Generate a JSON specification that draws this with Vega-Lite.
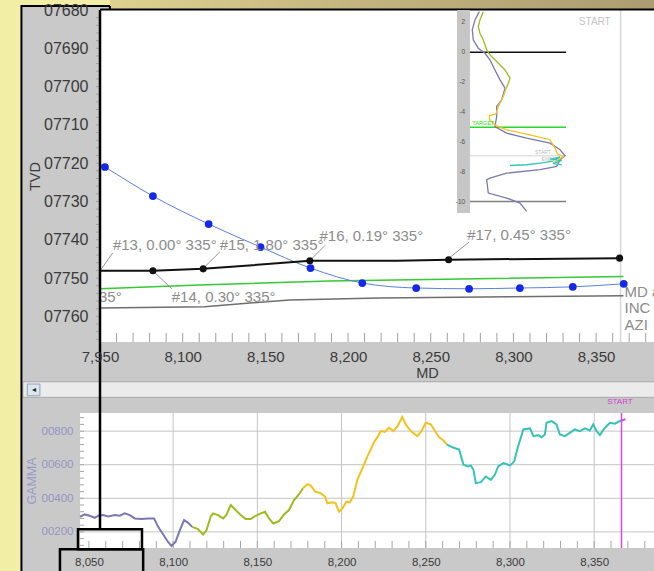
{
"$schema": "https://vega.github.io/schema/vega-lite/v6.json",
"width": 633, "height": 562,
"autosize": {"type": "none"},
"padding": {"left": 21, "top": 9, "right": 0, "bottom": 0},
"background": "#f3eea6",
"config": {"view": {"fill": "#c9c9c9", "stroke": null}, "font": "Liberation Sans", "text": {"font": "Liberation Sans"}, "axis": {"labelOverlap": false}},
"datasets": {
 "one": [{}],
 "gamma": [
  {"md":8044.7,"g":290,"seg":"A"},{"md":8047.5,"g":304,"seg":"A"},{"md":8050.5,"g":296,"seg":"A"},{"md":8053.5,"g":284,"seg":"A"},{"md":8055.5,"g":296,"seg":"A"},{"md":8058.4,"g":300,"seg":"A"},{"md":8061.4,"g":292,"seg":"A"},{"md":8065.4,"g":300,"seg":"A"},{"md":8068.3,"g":296,"seg":"A"},{"md":8071.3,"g":310,"seg":"A"},{"md":8074.3,"g":300,"seg":"A"},{"md":8077.2,"g":280,"seg":"A"},{"md":8081.2,"g":276,"seg":"A"},{"md":8085.2,"g":280,"seg":"A"},{"md":8088.7,"g":280,"seg":"A"},{"md":8091.1,"g":230,"seg":"A"},{"md":8094.1,"g":184,"seg":"A"},{"md":8097,"g":140,"seg":"A"},{"md":8099,"g":116,"seg":"A"},{"md":8101.4,"g":140,"seg":"A"},{"md":8104,"g":210,"seg":"A"},{"md":8106.5,"g":270,"seg":"A"},{"md":8108.9,"g":254,"seg":"A"},{"md":8111.3,"g":230,"seg":"A"},
  {"md":8111.3,"g":230,"seg":"B"},{"md":8114.8,"g":216,"seg":"B"},{"md":8117.8,"g":184,"seg":"B"},{"md":8119.8,"g":210,"seg":"B"},{"md":8122.3,"g":290,"seg":"B"},{"md":8123.7,"g":310,"seg":"B"},{"md":8126.7,"g":300,"seg":"B"},{"md":8129.7,"g":280,"seg":"B"},{"md":8131.5,"g":300,"seg":"B"},{"md":8134.2,"g":360,"seg":"B"},{"md":8137.1,"g":330,"seg":"B"},{"md":8140.1,"g":300,"seg":"B"},{"md":8143.1,"g":276,"seg":"B"},{"md":8146,"g":276,"seg":"B"},{"md":8149,"g":296,"seg":"B"},{"md":8152,"g":310,"seg":"B"},{"md":8154.6,"g":320,"seg":"B"},{"md":8156.9,"g":280,"seg":"B"},{"md":8159.5,"g":250,"seg":"B"},{"md":8162.9,"g":264,"seg":"B"},{"md":8165.8,"g":304,"seg":"B"},{"md":8168.8,"g":330,"seg":"B"},{"md":8171.8,"g":390,"seg":"B"},{"md":8174.8,"g":424,"seg":"B"},{"md":8177.1,"g":460,"seg":"B"},
  {"md":8177.1,"g":460,"seg":"C"},{"md":8179.7,"g":484,"seg":"C"},{"md":8181.7,"g":476,"seg":"C"},{"md":8184.3,"g":440,"seg":"C"},{"md":8187.6,"g":430,"seg":"C"},{"md":8190.2,"g":410,"seg":"C"},{"md":8191.6,"g":370,"seg":"C"},{"md":8194.6,"g":376,"seg":"C"},{"md":8196.5,"g":370,"seg":"C"},{"md":8198.5,"g":320,"seg":"C"},{"md":8200.5,"g":340,"seg":"C"},{"md":8202.9,"g":380,"seg":"C"},{"md":8204.9,"g":376,"seg":"C"},{"md":8206.9,"g":410,"seg":"C"},{"md":8209.4,"g":510,"seg":"C"},{"md":8212.4,"g":580,"seg":"C"},{"md":8215.3,"g":650,"seg":"C"},{"md":8217.3,"g":690,"seg":"C"},{"md":8219.3,"g":735,"seg":"C"},{"md":8221,"g":760,"seg":"C"},{"md":8223.3,"g":800,"seg":"C"},{"md":8225.6,"g":796,"seg":"C"},{"md":8228.2,"g":820,"seg":"C"},{"md":8230.8,"g":800,"seg":"C"},{"md":8233.2,"g":830,"seg":"C"},{"md":8236.1,"g":884,"seg":"C"},{"md":8238.1,"g":840,"seg":"C"},{"md":8241.1,"g":800,"seg":"C"},{"md":8245,"g":770,"seg":"C"},{"md":8247.4,"g":800,"seg":"C"},{"md":8250,"g":850,"seg":"C"},{"md":8253,"g":840,"seg":"C"},{"md":8255.3,"g":804,"seg":"C"},{"md":8257.9,"g":764,"seg":"C"},{"md":8260.5,"g":744,"seg":"C"},{"md":8262.5,"g":720,"seg":"C"},
  {"md":8262.5,"g":720,"seg":"D"},{"md":8265.8,"g":704,"seg":"D"},{"md":8269.8,"g":690,"seg":"D"},{"md":8272.4,"g":600,"seg":"D"},{"md":8275.1,"g":590,"seg":"D"},{"md":8276.7,"g":596,"seg":"D"},{"md":8278.3,"g":570,"seg":"D"},{"md":8279.7,"g":490,"seg":"D"},{"md":8282.7,"g":496,"seg":"D"},{"md":8285.6,"g":530,"seg":"D"},{"md":8288.6,"g":510,"seg":"D"},{"md":8291,"g":540,"seg":"D"},{"md":8293,"g":590,"seg":"D"},{"md":8296.1,"g":610,"seg":"D"},{"md":8300.1,"g":596,"seg":"D"},{"md":8302.5,"g":620,"seg":"D"},{"md":8304.5,"g":700,"seg":"D"},{"md":8306.4,"g":760,"seg":"D"},{"md":8307.9,"g":810,"seg":"D"},{"md":8311.9,"g":816,"seg":"D"},{"md":8313.9,"g":770,"seg":"D"},{"md":8316.7,"g":776,"seg":"D"},{"md":8318.7,"g":764,"seg":"D"},{"md":8320.7,"g":780,"seg":"D"},{"md":8321.7,"g":850,"seg":"D"},{"md":8324.7,"g":860,"seg":"D"},{"md":8327.6,"g":840,"seg":"D"},{"md":8329.6,"g":780,"seg":"D"},{"md":8332.6,"g":770,"seg":"D"},{"md":8335.5,"g":790,"seg":"D"},{"md":8338.5,"g":810,"seg":"D"},{"md":8341.5,"g":800,"seg":"D"},{"md":8344.5,"g":816,"seg":"D"},{"md":8347.4,"g":804,"seg":"D"},{"md":8349.4,"g":840,"seg":"D"},{"md":8351.4,"g":800,"seg":"D"},{"md":8353.4,"g":776,"seg":"D"},{"md":8356,"g":816,"seg":"D"},{"md":8359.3,"g":850,"seg":"D"},{"md":8362.3,"g":844,"seg":"D"},{"md":8365.2,"g":860,"seg":"D"},{"md":8366.2,"g":862,"seg":"D"},
  {"md":8366.2,"g":862,"seg":"E"},{"md":8368.5,"g":872,"seg":"E"}
 ],
 "gridX": [{"md":8100},{"md":8150},{"md":8200},{"md":8250},{"md":8300},{"md":8350}],
 "gridY": [{"g":200},{"g":400},{"g":600},{"g":800}],
 "mdTicks": [{"md":8050},{"md":8060},{"md":8070},{"md":8080},{"md":8090},{"md":8100},{"md":8110},{"md":8120},{"md":8130},{"md":8140},{"md":8150},{"md":8160},{"md":8170},{"md":8180},{"md":8190},{"md":8200},{"md":8210},{"md":8220},{"md":8230},{"md":8240},{"md":8250},{"md":8260},{"md":8270},{"md":8280},{"md":8290},{"md":8300},{"md":8310},{"md":8320},{"md":8330},{"md":8340},{"md":8350},{"md":8360},{"md":8370},{"md":8380}],
 "tvdTicks": [{"tvd":7682},{"tvd":7684},{"tvd":7686},{"tvd":7688},{"tvd":7690},{"tvd":7692},{"tvd":7694},{"tvd":7696},{"tvd":7698},{"tvd":7700},{"tvd":7702},{"tvd":7704},{"tvd":7706},{"tvd":7708},{"tvd":7710},{"tvd":7712},{"tvd":7714},{"tvd":7716},{"tvd":7718},{"tvd":7720},{"tvd":7722},{"tvd":7724},{"tvd":7726},{"tvd":7728},{"tvd":7730},{"tvd":7732},{"tvd":7734},{"tvd":7736},{"tvd":7738},{"tvd":7740},{"tvd":7742},{"tvd":7744},{"tvd":7746},{"tvd":7748},{"tvd":7750},{"tvd":7752},{"tvd":7754},{"tvd":7756},{"tvd":7758},{"tvd":7760},{"tvd":7762},{"tvd":7764},{"tvd":7766}],
 "gTicks": [{"g":120},{"g":160},{"g":200},{"g":240},{"g":280},{"g":320},{"g":360},{"g":400},{"g":440},{"g":480},{"g":520},{"g":560},{"g":600},{"g":640},{"g":680},{"g":720},{"g":760},{"g":800},{"g":840},{"g":880}],
 "blue": [{"md":8050,"tvd":7720.2},{"md":8053,"tvd":7721.0},{"md":8082,"tvd":7728.6},{"md":8115.7,"tvd":7735.9},{"md":8147.1,"tvd":7741.9},{"md":8177.3,"tvd":7747.4},{"md":8208.6,"tvd":7751.3},{"md":8241.2,"tvd":7752.6},{"md":8273.2,"tvd":7752.8},{"md":8303.9,"tvd":7752.6},{"md":8335.9,"tvd":7752.3},{"md":8366.7,"tvd":7751.5}],
 "bluePts": [{"md":8053,"tvd":7721.0},{"md":8082,"tvd":7728.6},{"md":8115.7,"tvd":7735.9},{"md":8147.1,"tvd":7741.9},{"md":8177.3,"tvd":7747.4},{"md":8208.6,"tvd":7751.3},{"md":8241.2,"tvd":7752.6},{"md":8273.2,"tvd":7752.8},{"md":8303.9,"tvd":7752.6},{"md":8335.9,"tvd":7752.3},{"md":8366.7,"tvd":7751.5}],
 "survey": [{"md":8050,"tvd":7748.1},{"md":8082,"tvd":7748.1},{"md":8112.4,"tvd":7747.6},{"md":8176.9,"tvd":7745.5},{"md":8230,"tvd":7745.5},{"md":8260.8,"tvd":7745.2},{"md":8364.2,"tvd":7744.8}],
 "surveyPts": [{"md":8082,"tvd":7748.1},{"md":8112.4,"tvd":7747.6},{"md":8176.9,"tvd":7745.5},{"md":8260.8,"tvd":7745.2},{"md":8364.2,"tvd":7744.8}],
 "green": [{"md":8050,"tvd":7752.8},{"md":8110.3,"tvd":7751.8},{"md":8188.7,"tvd":7750.8},{"md":8366.5,"tvd":7749.6}],
 "greyLine": [{"md":8050,"tvd":7757.8},{"md":8113.3,"tvd":7757.5},{"md":8164.6,"tvd":7755.7},{"md":8218.9,"tvd":7755.2},{"md":8366.5,"tvd":7754.6}],
 "labels": [
  {"md":8057.8,"tvd":7741.4,"text":"#13, 0.00° 335°"},
  {"md":8122.4,"tvd":7741.4,"text":"#15, 1.80° 335°"},
  {"md":8182.7,"tvd":7739.0,"text":"#16, 0.19° 335°"},
  {"md":8272.0,"tvd":7738.7,"text":"#17, 0.45° 335°"},
  {"md":8093.4,"tvd":7754.9,"text":"#14, 0.30° 335°"},
  {"md":8049.4,"tvd":7754.9,"text":"35°"},
  {"md":8367.2,"tvd":7753.6,"text":"MD at"},
  {"md":8367.2,"tvd":7757.9,"text":"INC"},
  {"md":8367.2,"tvd":7762.2,"text":"AZI"}
 ],
 "leaders": [
  {"md":8050,"tvd":7748.1,"md2":8057.8,"tvd2":7743.4},
  {"md":8112.1,"tvd":7747.6,"md2":8122.4,"tvd2":7743.2},
  {"md":8176.7,"tvd":7745.5,"md2":8186.3,"tvd2":7741.4},
  {"md":8260.5,"tvd":7745.0,"md2":8273.2,"tvd2":7740.6},
  {"md":8082,"tvd":7748.1,"md2":8093.4,"tvd2":7752.8}
 ],
 "insetCurves": [
  {"ix":9.7,"iy":2.71,"seg":"A"},{"ix":5.2,"iy":2.16,"seg":"A"},{"ix":2.4,"iy":1.49,"seg":"A"},{"ix":3.5,"iy":0.82,"seg":"A"},{"ix":8.7,"iy":0.27,"seg":"A"},{"ix":15.6,"iy":-0.07,"seg":"A"},{"ix":20.8,"iy":-0.51,"seg":"A"},{"ix":26.0,"iy":-1.18,"seg":"A"},{"ix":31.3,"iy":-1.84,"seg":"A"},{"ix":36.5,"iy":-2.4,"seg":"A"},{"ix":33.0,"iy":-3.18,"seg":"A"},{"ix":27.8,"iy":-3.62,"seg":"A"},{"ix":27.8,"iy":-4.29,"seg":"A"},{"ix":26.0,"iy":-4.96,"seg":"A"},{"ix":38.2,"iy":-5.4,"seg":"A"},{"ix":59.0,"iy":-5.73,"seg":"A"},{"ix":83.3,"iy":-6.07,"seg":"A"},{"ix":93.8,"iy":-6.51,"seg":"A"},{"ix":99.0,"iy":-6.91,"seg":"A"},{"ix":93.8,"iy":-7.18,"seg":"A"},{"ix":90.3,"iy":-7.62,"seg":"A"},{"ix":72.9,"iy":-7.84,"seg":"A"},{"ix":38.2,"iy":-8.07,"seg":"A"},{"ix":20.8,"iy":-8.4,"seg":"A"},{"ix":17.4,"iy":-8.51,"seg":"A"},{"ix":19.1,"iy":-9.4,"seg":"A"},{"ix":38.2,"iy":-9.73,"seg":"A"},{"ix":52.1,"iy":-10.07,"seg":"A"},{"ix":59.0,"iy":-10.62,"seg":"A"},
  {"ix":13.9,"iy":2.71,"seg":"B"},{"ix":10.4,"iy":2.16,"seg":"B"},{"ix":8.7,"iy":1.71,"seg":"B"},{"ix":10.4,"iy":1.27,"seg":"B"},{"ix":13.9,"iy":0.82,"seg":"B"},{"ix":17.4,"iy":0.16,"seg":"B"},{"ix":20.8,"iy":-0.18,"seg":"B"},{"ix":27.8,"iy":-0.62,"seg":"B"},{"ix":36.5,"iy":-1.18,"seg":"B"},{"ix":41.7,"iy":-1.73,"seg":"B"},{"ix":39.9,"iy":-2.07,"seg":"B"},{"ix":38.2,"iy":-2.33,"seg":"B"},
  {"ix":38.2,"iy":-2.33,"seg":"C"},{"ix":34.7,"iy":-2.96,"seg":"C"},{"ix":29.5,"iy":-3.62,"seg":"C"},{"ix":27.1,"iy":-4.11,"seg":"C"},{"ix":20.1,"iy":-4.24,"seg":"C"},{"ix":20.8,"iy":-4.56,"seg":"C"},{"ix":27.8,"iy":-4.91,"seg":"C"},{"ix":38.2,"iy":-5.18,"seg":"C"},{"ix":62.5,"iy":-5.51,"seg":"C"},{"ix":83.3,"iy":-5.84,"seg":"C"},{"ix":88.5,"iy":-6.4,"seg":"C"},{"ix":91.0,"iy":-6.78,"seg":"C"},{"ix":97.2,"iy":-6.96,"seg":"C"},{"ix":92.0,"iy":-7.18,"seg":"C"},{"ix":86.8,"iy":-7.4,"seg":"C"},
  {"ix":41.7,"iy":-7.56,"seg":"D"},{"ix":59.0,"iy":-7.51,"seg":"D"},{"ix":72.9,"iy":-7.4,"seg":"D"},{"ix":85.1,"iy":-7.29,"seg":"D"},{"ix":93.8,"iy":-7.0,"seg":"D"},{"ix":83.3,"iy":-7.13,"seg":"D"},{"ix":95.5,"iy":-7.22,"seg":"D"},{"ix":86.8,"iy":-7.44,"seg":"D"},{"ix":95.5,"iy":-7.51,"seg":"D"}
 ],
 "insetTicks": [{"v":2,"t":"2"},{"v":0,"t":"0"},{"v":-2,"t":"-2"},{"v":-4,"t":"-4"},{"v":-6,"t":"-6"},{"v":-8,"t":"-8"},{"v":-10,"t":"-10"}]
},
"resolve": {"scale": {"x": "independent", "y": "independent"}, "axis": {"x": "independent", "y": "independent"}},
"layer": [
 {
  "layer": [
   {"data": {"name": "one"}, "mark": {"type": "rect", "fill": "#ffffff"},
    "encoding": {
     "x": {"datum": 8044.7, "type": "quantitative", "scale": {"domain": [8044.7, 8385.5], "range": [59, 633], "nice": false, "zero": false},
           "axis": {"orient": "bottom", "offset": -23, "values": [8050,8100,8150,8200,8250,8300,8350], "labelExpr": "format(datum.value, ',')", "ticks": false, "tickSize": 0, "labelPadding": 8, "labelFontSize": 11.5, "labelFontWeight": "normal", "labelColor": "#3a3a3a", "labelFont": "Liberation Sans", "labelFlush": false, "labelOverlap": false, "domain": false, "grid": false, "title": "", "zindex": 1}},
     "x2": {"datum": 8385.5},
     "y": {"datum": 104, "type": "quantitative", "scale": {"domain": [104, 908], "range": [539, 404], "nice": false, "zero": false},
           "axis": {"orient": "left", "offset": -59, "values": [200,400,600,800], "labelExpr": "format(datum.value, '05d')", "ticks": false, "tickSize": 0, "labelPadding": 7, "labelFontSize": 11.5, "labelFontWeight": "normal", "labelColor": "#9494c4", "labelFont": "Liberation Sans", "labelOverlap": false, "domain": false, "grid": false, "title": "GAMMA", "titleColor": "#9a9ac8", "titleFontSize": 12.5, "titleFontWeight": "normal", "titleFont": "Liberation Sans", "titlePadding": 3, "zindex": 1}},
     "y2": {"datum": 908}}},
   {"data": {"name": "gridX"}, "mark": {"type": "rule", "color": "#c4c4c4", "strokeWidth": 1},
    "encoding": {"x": {"field": "md", "type": "quantitative"}, "y": {"datum": 104, "type": "quantitative"}, "y2": {"datum": 908}}},
   {"data": {"name": "gridY"}, "mark": {"type": "rule", "color": "#c4c4c4", "strokeWidth": 1},
    "encoding": {"y": {"field": "g", "type": "quantitative"}, "x": {"datum": 8044.7, "type": "quantitative"}, "x2": {"datum": 8385.5}}},
   {"data": {"name": "mdTicks"}, "mark": {"type": "rule", "color": "#a6a6a6", "strokeWidth": 1},
    "encoding": {"x": {"field": "md", "type": "quantitative"}, "y": {"datum": 104, "type": "quantitative"}, "y2": {"datum": 145.7}}},
   {"data": {"name": "gTicks"}, "mark": {"type": "rule", "color": "#a6a6a6", "strokeWidth": 1},
    "encoding": {"y": {"field": "g", "type": "quantitative"}, "x": {"datum": 8044.7, "type": "quantitative"}, "x2": {"datum": 8047.1}}},
   {"data": {"name": "one"}, "mark": {"type": "rect", "fill": "#ebebeb", "stroke": "#a9a9a9", "strokeWidth": 1},
    "encoding": {"x": {"datum": 8010.8, "type": "quantitative"}, "x2": {"datum": 8390}, "y": {"datum": 1094.2, "type": "quantitative"}, "y2": {"datum": 1001.3}}},
   {"data": {"name": "one"}, "mark": {"type": "rect", "fill": "#dde6ef", "stroke": "#8fa3b8", "strokeWidth": 1},
    "encoding": {"x": {"datum": 8013.4, "type": "quantitative"}, "x2": {"datum": 8020.9}, "y": {"datum": 1080.5, "type": "quantitative"}, "y2": {"datum": 1010.8}}},
   {"data": {"name": "one"}, "mark": {"type": "text", "text": "◂", "fontSize": 8, "color": "#222222"},
    "encoding": {"x": {"datum": 8017.1, "type": "quantitative"}, "y": {"datum": 1045.6, "type": "quantitative"}}},
   {"data": {"name": "gamma"}, "mark": {"type": "line", "strokeWidth": 2},
    "encoding": {
     "x": {"field": "md", "type": "quantitative"},
     "y": {"field": "g", "type": "quantitative"},
     "color": {"field": "seg", "type": "nominal", "legend": null, "scale": {"domain": ["A","B","C","D","E"], "range": ["#7b79b3","#9cbc1e","#f1c31c","#36c3b6","#e33be3"]}}}},
   {"data": {"name": "one"}, "mark": {"type": "rule", "color": "#d84ad8", "strokeWidth": 1.5},
    "encoding": {"x": {"datum": 8366.2, "type": "quantitative"}, "y": {"datum": 104, "type": "quantitative"}, "y2": {"datum": 908}}},
   {"data": {"name": "one"}, "mark": {"type": "text", "text": "START", "fontSize": 8, "color": "#d23ed2"},
    "encoding": {"x": {"datum": 8365.3, "type": "quantitative"}, "y": {"datum": 973, "type": "quantitative"}}},
   {"data": {"name": "one"}, "mark": {"type": "rect", "fillOpacity": 0, "stroke": "#000000", "strokeWidth": 2.5},
    "encoding": {"x": {"datum": 8043.5, "type": "quantitative"}, "x2": {"datum": 8081.5}, "y": {"datum": 215, "type": "quantitative"}, "y2": {"datum": 96}}},
   {"data": {"name": "one"}, "mark": {"type": "rect", "fillOpacity": 0, "stroke": "#000000", "strokeWidth": 2.5},
    "encoding": {"x": {"datum": 8032.8, "type": "quantitative"}, "x2": {"datum": 8082.2}, "y": {"datum": 96, "type": "quantitative"}, "y2": {"datum": -130}}}
  ]
 },
 {
  "layer": [
   {"data": {"name": "one"}, "mark": {"type": "rect", "fill": "#ffffff"},
    "encoding": {
     "x": {"datum": 8050, "type": "quantitative", "scale": {"domain": [8050, 8385], "range": [79, 633], "nice": false, "zero": false},
           "axis": {"orient": "bottom", "offset": -229, "values": [8050,8100,8150,8200,8250,8300,8350], "labelExpr": "datum.value == 8050 ? '7,950' : format(datum.value, ',')", "ticks": false, "tickSize": 0, "labelPadding": 7, "labelFontSize": 15, "labelFontWeight": "normal", "labelColor": "#3a3a3a", "labelFont": "Liberation Sans", "labelFlush": false, "labelOverlap": false, "domain": false, "grid": false, "title": "MD", "titleFontSize": 14.5, "titleFontWeight": "normal", "titleColor": "#3a3a3a", "titleFont": "Liberation Sans", "titleX": 406, "titlePadding": 2, "zindex": 1}},
     "x2": {"datum": 8385},
     "y": {"datum": 7680, "type": "quantitative", "scale": {"domain": [7680, 7766.7], "range": [1, 333], "nice": false, "zero": false},
           "axis": {"orient": "left", "offset": -79, "values": [7680,7690,7700,7710,7720,7730,7740,7750,7760], "labelExpr": "format(datum.value, '05d')", "ticks": false, "tickSize": 0, "labelPadding": 12, "labelFontSize": 16, "labelFontWeight": "normal", "labelColor": "#3a3a3a", "labelFont": "Liberation Sans", "labelOverlap": false, "domain": false, "grid": false, "title": "TVD", "titleFontSize": 14.5, "titleFontWeight": "normal", "titleColor": "#3a3a3a", "titleFont": "Liberation Sans", "titlePadding": 1, "zindex": 1}},
     "y2": {"datum": 7766.7}}},
   {"data": {"name": "one"}, "mark": {"type": "rect", "fill": {"gradient": "linear", "x1": 0, "x2": 1, "y1": 0, "y2": 0, "stops": [{"offset": 0, "color": "#ddd291"}, {"offset": 0.45, "color": "#c2b47e"}, {"offset": 1, "color": "#aa9a70"}]}},
    "encoding": {"x": {"datum": 8056, "type": "quantitative"}, "x2": {"datum": 8400}, "y": {"datum": 7677.2, "type": "quantitative"}, "y2": {"datum": 7679.8}}},
   {"data": {"name": "one"}, "mark": {"type": "rect", "fill": "#c9c9c9"},
    "encoding": {"x": {"datum": 8002.5, "type": "quantitative"}, "x2": {"datum": 8056}, "y": {"datum": 7679.0, "type": "quantitative"}, "y2": {"datum": 7680}}},
   {"data": {"name": "mdTicks"}, "mark": {"type": "rule", "color": "#a0a0a0", "strokeWidth": 1},
    "encoding": {"x": {"field": "md", "type": "quantitative"}, "y": {"datum": 7766.7, "type": "quantitative"}, "y2": {"datum": 7764.35}}},
   {"data": {"name": "tvdTicks"}, "mark": {"type": "rule", "color": "#a0a0a0", "strokeWidth": 1},
    "encoding": {"y": {"field": "tvd", "type": "quantitative"}, "x": {"datum": 8047.6, "type": "quantitative"}, "x2": {"datum": 8050}}},
   {"data": {"name": "one"}, "mark": {"type": "rule", "color": "#d6d6d6", "strokeWidth": 1.5},
    "encoding": {"x": {"datum": 8364.8, "type": "quantitative"}, "y": {"datum": 7680, "type": "quantitative"}, "y2": {"datum": 7766.7}}},
   {"data": {"name": "one"}, "mark": {"type": "text", "text": "START", "fontSize": 10, "color": "#c4c4c4"},
    "encoding": {"x": {"datum": 8349.2, "type": "quantitative"}, "y": {"datum": 7683.1, "type": "quantitative"}}},
   {"data": {"name": "greyLine"}, "mark": {"type": "line", "color": "#6e6e6e", "strokeWidth": 1.5},
    "encoding": {"x": {"field": "md", "type": "quantitative"}, "y": {"field": "tvd", "type": "quantitative"}}},
   {"data": {"name": "green"}, "mark": {"type": "line", "color": "#35c935", "strokeWidth": 1.5},
    "encoding": {"x": {"field": "md", "type": "quantitative"}, "y": {"field": "tvd", "type": "quantitative"}}},
   {"data": {"name": "blue"}, "mark": {"type": "line", "color": "#5b7fdc", "strokeWidth": 1, "interpolate": "monotone"},
    "encoding": {"x": {"field": "md", "type": "quantitative"}, "y": {"field": "tvd", "type": "quantitative"}}},
   {"data": {"name": "survey"}, "mark": {"type": "line", "color": "#111111", "strokeWidth": 2},
    "encoding": {"x": {"field": "md", "type": "quantitative"}, "y": {"field": "tvd", "type": "quantitative"}}},
   {"data": {"name": "leaders"}, "mark": {"type": "rule", "color": "#7a7a7a", "strokeWidth": 0.8},
    "encoding": {"x": {"field": "md", "type": "quantitative"}, "y": {"field": "tvd", "type": "quantitative"}, "x2": {"field": "md2"}, "y2": {"field": "tvd2"}}},
   {"data": {"name": "bluePts"}, "mark": {"type": "circle", "color": "#1428e8", "opacity": 1, "size": 60},
    "encoding": {"x": {"field": "md", "type": "quantitative"}, "y": {"field": "tvd", "type": "quantitative"}}},
   {"data": {"name": "surveyPts"}, "mark": {"type": "circle", "color": "#111111", "opacity": 1, "size": 50},
    "encoding": {"x": {"field": "md", "type": "quantitative"}, "y": {"field": "tvd", "type": "quantitative"}}},
   {"data": {"name": "labels"}, "mark": {"type": "text", "align": "left", "baseline": "middle", "fontSize": 15, "color": "#8c8c8c"},
    "encoding": {"x": {"field": "md", "type": "quantitative"}, "y": {"field": "tvd", "type": "quantitative"}, "text": {"field": "text"}}},
   {"data": {"name": "one"}, "mark": {"type": "rule", "color": "#000000", "strokeWidth": 2.5},
    "encoding": {"x": {"datum": 8050, "type": "quantitative"}, "y": {"datum": 7680, "type": "quantitative"}, "y2": {"datum": 7815.6}}},
   {"data": {"name": "one"}, "mark": {"type": "rule", "color": "#000000", "strokeWidth": 2},
    "encoding": {"x": {"datum": 8050, "type": "quantitative"}, "x2": {"datum": 8400}, "y": {"datum": 7679.87, "type": "quantitative"}}},
   {"data": {"name": "one"}, "mark": {"type": "rule", "color": "#000000", "strokeWidth": 2},
    "encoding": {"x": {"datum": 8002.5, "type": "quantitative"}, "x2": {"datum": 8056}, "y": {"datum": 7678.96, "type": "quantitative"}}},
   {"data": {"name": "one"}, "mark": {"type": "rule", "color": "#000000", "strokeWidth": 2},
    "encoding": {"x": {"datum": 8056, "type": "quantitative"}, "y": {"datum": 7678.96, "type": "quantitative"}, "y2": {"datum": 7680}}},
   {"data": {"name": "one"}, "mark": {"type": "rule", "color": "#000000", "strokeWidth": 2},
    "encoding": {"x": {"datum": 8002.5, "type": "quantitative"}, "y": {"datum": 7678.7, "type": "quantitative"}, "y2": {"datum": 7830}}}
  ]
 },
 {
  "layer": [
   {"data": {"name": "one"}, "mark": {"type": "rect", "fill": "#c6c6c6"},
    "encoding": {"x": {"datum": -13.5, "type": "quantitative", "axis": null, "scale": {"domain": [-13.5, 100], "range": [436, 545], "nice": false, "zero": false}}, "x2": {"datum": 0},
                 "y": {"datum": 2.82, "type": "quantitative", "axis": null, "scale": {"domain": [-10.73, 2.82], "range": [204, 1], "nice": false, "zero": false}}, "y2": {"datum": -10.73}}},
   {"data": {"name": "one"}, "mark": {"type": "rule", "color": "#d2d2d2", "strokeWidth": 1},
    "encoding": {"x": {"datum": 0, "type": "quantitative"}, "x2": {"datum": 100}, "y": {"datum": -6.91, "type": "quantitative"}}},
   {"data": {"name": "one"}, "mark": {"type": "rule", "color": "#111111", "strokeWidth": 1.5},
    "encoding": {"x": {"datum": 0, "type": "quantitative"}, "x2": {"datum": 100}, "y": {"datum": 0, "type": "quantitative"}}},
   {"data": {"name": "one"}, "mark": {"type": "rule", "color": "#2ad82a", "strokeWidth": 1.5},
    "encoding": {"x": {"datum": 0, "type": "quantitative"}, "x2": {"datum": 100}, "y": {"datum": -5, "type": "quantitative"}}},
   {"data": {"name": "one"}, "mark": {"type": "rule", "color": "#808080", "strokeWidth": 1.5},
    "encoding": {"x": {"datum": 0, "type": "quantitative"}, "x2": {"datum": 100}, "y": {"datum": -9.96, "type": "quantitative"}}},
   {"data": {"name": "insetCurves"}, "mark": {"type": "line", "strokeWidth": 1.3},
    "encoding": {"x": {"field": "ix", "type": "quantitative"}, "y": {"field": "iy", "type": "quantitative"}, "order": {"value": null},
     "color": {"field": "seg", "type": "nominal", "legend": null, "scale": {"domain": ["A","B","C","D","E"], "range": ["#7b79b3","#9cbc1e","#f1c31c","#36c3b6","#e33be3"]}}}},
   {"data": {"name": "insetTicks"}, "mark": {"type": "text", "align": "right", "baseline": "middle", "fontSize": 6.5, "color": "#555555"},
    "encoding": {"x": {"datum": -5, "type": "quantitative"}, "y": {"field": "v", "type": "quantitative"}, "text": {"field": "t"}}},
   {"data": {"name": "one"}, "mark": {"type": "text", "text": "TARGET", "align": "left", "baseline": "middle", "fontSize": 5.5, "color": "#2ad82a"},
    "encoding": {"x": {"datum": 2.4, "type": "quantitative"}, "y": {"datum": -4.73, "type": "quantitative"}}},
   {"data": {"name": "one"}, "mark": {"type": "text", "text": "START", "align": "left", "baseline": "middle", "fontSize": 5, "color": "#b8b8b8"},
    "encoding": {"x": {"datum": 67.7, "type": "quantitative"}, "y": {"datum": -6.63, "type": "quantitative"}}},
   {"data": {"name": "one"}, "mark": {"type": "text", "text": "END", "align": "left", "baseline": "middle", "fontSize": 5, "color": "#b8b8b8"},
    "encoding": {"x": {"datum": 74.6, "type": "quantitative"}, "y": {"datum": -7.13, "type": "quantitative"}}}
  ]
 }
]
}
